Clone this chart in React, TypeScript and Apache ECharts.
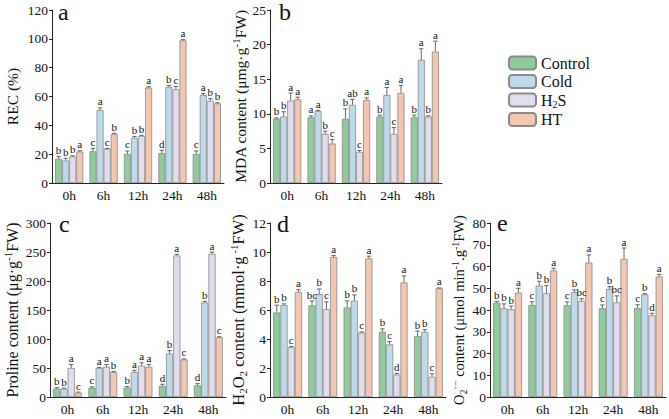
import React, { useEffect, useRef } from 'react';
import * as echarts from 'echarts';

const FONT = "'Liberation Serif', 'Times New Roman', serif";

const categories = ['0h', '6h', '12h', '24h', '48h'];
const seriesNames = ['Control', 'Cold', 'H2S', 'HT'];
const colors = ['#8fcc9b', '#bddaea', '#e3dced', '#f3c6b0'];

// a: REC (%)
const recVals = [[16.8, 22, 20.2, 20.7, 20.2], [15.6, 50.6, 31.3, 66.7, 61], [18.4, 23.7, 32.6, 65, 57], [21.8, 34, 66.2, 98.9, 55.2]];
const recErr = [[1.5, 2, 2, 2, 2], [1.5, 1.5, 1, 1, 1], [0.5, 0.3, 0.5, 2, 1.5], [0.5, 0.5, 0.5, 0.5, 0.5]];
const recSig = [['b', 'c', 'c', 'd', 'c'], ['b', 'a', 'b', 'b', 'a'], ['b', 'c', 'b', 'c', 'b'], ['a', 'b', 'a', 'a', 'b']];
const recTicks = [0, 120, 20];

// b: MDA
const mdaVals = [[9.3, 9.5, 9.3, 9.6, 9.5], [9.6, 10.4, 11.3, 12.7, 17.8], [11.9, 7.1, 4.5, 7.1, 9.6], [12.1, 5.7, 12.0, 13.0, 19.0]];
const mdaErr = [[0.1, 0.2, 1.4, 0.2, 0.3], [0.7, 0.1, 0.8, 1.1, 1.6], [1.1, 0.4, 0.2, 0.9, 0.1], [0.3, 0.6, 0.3, 1.1, 1.5]];
const mdaSig = [['b', 'a', 'b', 'b', 'b'], ['b', 'a', 'ab', 'a', 'a'], ['a', 'b', 'c', 'c', 'b'], ['a', 'c', 'a', 'a', 'a']];
const mdaTicks = [0, 25, 5];

// c: Proline
const proVals = [[14.4, 16, 16, 19, 20], [14.4, 50, 43, 75, 163], [50, 52, 54, 244, 247], [7.5, 43, 52, 64.6, 103]];
const proErr = [[1.5, 1.5, 2, 3, 3], [1, 1, 3, 5, 2], [6, 4, 5, 2, 3], [1, 1, 4, 1, 1]];
const proSig = [['b', 'c', 'b', 'd', 'd'], ['b', 'a', 'a', 'b', 'b'], ['a', 'a', 'a', 'a', 'a'], ['c', 'b', 'a', 'c', 'c']];
const proTicks = [0, 300, 50];

// d: H2O2
const h2o2Vals = [[5.83, 6.32, 6.18, 4.5, 4.2], [6.34, 7.1, 6.64, 3.63, 4.5], [3.43, 6.06, 4.44, 1.55, 1.4], [7.25, 9.65, 9.56, 7.9, 7.5]];
const h2o2Err = [[0.5, 0.3, 0.45, 0.2, 0.35], [0.08, 0.35, 0.4, 0.2, 0.15], [0.05, 0.5, 0.05, 0.08, 0.2], [0.15, 0.1, 0.15, 0.45, 0.02]];
const h2o2Sig = [['b', 'bc', 'b', 'b', 'b'], ['b', 'b', 'b', 'c', 'b'], ['c', 'c', 'c', 'd', 'c'], ['a', 'a', 'a', 'a', 'a']];
const h2o2Ticks = [0, 12, 2];

// e: O2-
const o2Vals = [[43.4, 42.3, 42.2, 40.8, 40.9], [40.8, 51.2, 48.2, 49.7, 47.2], [40.3, 47.7, 44.2, 43.5, 37.5], [48, 58.2, 61.8, 63.5, 55.4]];
const o2Err = [[0.6, 1.5, 1.5, 1.5, 1.5], [2, 2, 1, 1, 0.3], [1.5, 3.5, 1, 3, 1], [2, 1, 3.5, 5, 1]];
const o2Sig = [['b', 'c', 'c', 'c', 'c'], ['b', 'b', 'b', 'b', 'b'], ['b', 'b', 'bc', 'bc', 'd'], ['a', 'a', 'a', 'a', 'a']];
const o2Ticks = [0, 80, 10];

const GAP = 0.18;

const panels = [
  { vals: recVals, err: recErr, sig: recSig, ticks: recTicks, left: 52, width: 172, top: 10, height: 173, tag: 'a', tagX: 58, tagY: 12,
    name: '{n|REC (%)}', nameGap: 30, nameSize: 15.5 },
  { vals: mdaVals, err: mdaErr, sig: mdaSig, ticks: mdaTicks, left: 270, width: 172, top: 10, height: 173, tag: 'b', tagX: 279, tagY: 12,
    name: '{n|MDA content (μmg·g}{sup|-1}{n|FW)}', nameGap: 20, nameSize: 15.5 },
  { vals: proVals, err: proErr, sig: proSig, ticks: proTicks, left: 50, width: 176, top: 223, height: 174, tag: 'c', tagX: 59, tagY: 224,
    name: '{n|Proline content (μg·g}{sup|-1}{n|FW)}', nameGap: 28, nameSize: 16 },
  { vals: h2o2Vals, err: h2o2Err, sig: h2o2Sig, ticks: h2o2Ticks, left: 270, width: 176, top: 223, height: 174, tag: 'd', tagX: 277, tagY: 224,
    name: '{n|H}{sub|2}{n|O}{sub|2}{n| content (mmol·g}{sup| -1}{n|FW)}', nameGap: 16, nameSize: 16.5 },
  { vals: o2Vals, err: o2Err, sig: o2Sig, ticks: o2Ticks, left: 490, width: 176, top: 223, height: 174, tag: 'e', tagX: 497, tagY: 223,
    name: '{n|O}{sub|2}{sup|·−}{n| content (μmol min}{sup|-1}{n|.g}{sup|-1}{n|FW)}', nameGap: 16, nameSize: 14.5 },
];

function buildOption() {
  const grid: any[] = [];
  const xAxis: any[] = [];
  const yAxis: any[] = [];
  const series: any[] = [];
  const graphic: any[] = [];

  panels.forEach((p, pi) => {
    grid.push({ left: p.left, top: p.top, width: p.width, height: p.height, containLabel: false });
    xAxis.push({
      type: 'category', gridIndex: pi, data: categories,
      axisLine: { lineStyle: { color: '#222', width: 1 } },
      axisTick: { show: false },
      axisLabel: { fontFamily: FONT, fontSize: 13.5, color: '#111', margin: 5 },
    });
    const sub = Math.round(p.nameSize * 0.68);
    yAxis.push({
      type: 'value', gridIndex: pi, min: p.ticks[0], max: p.ticks[1], interval: p.ticks[2],
      axisLine: { show: true, lineStyle: { color: '#222', width: 1 } },
      axisTick: { show: true, length: 3, lineStyle: { color: '#222' } },
      splitLine: { show: false },
      axisLabel: { fontFamily: FONT, fontSize: 13.5, color: '#111', margin: 4 },
      name: p.name, nameLocation: 'middle', nameGap: p.nameGap, nameRotate: 90,
      nameTextStyle: {
        fontFamily: FONT, color: '#111',
        rich: {
          n: { fontFamily: FONT, fontSize: p.nameSize, color: '#111', lineHeight: p.nameSize + 4 },
          sub: { fontFamily: FONT, fontSize: sub, color: '#111', lineHeight: sub, verticalAlign: 'bottom' },
          sup: { fontFamily: FONT, fontSize: sub, color: '#111', lineHeight: sub, verticalAlign: 'top' },
        },
      },
    });
    seriesNames.forEach((sn, si) => {
      series.push({
        type: 'bar', name: sn, xAxisIndex: pi, yAxisIndex: pi, data: p.vals[si],
        barGap: '0%', barCategoryGap: GAP * 100 + '%',
        itemStyle: { color: colors[si], borderColor: '#8a8a8a', borderWidth: 0.8 },
        emphasis: { disabled: true },
      });
    });
    const data: number[][] = [];
    for (let si = 0; si < 4; si++) {
      for (let ci = 0; ci < categories.length; ci++) {
        data.push([ci, p.vals[si][ci] + p.err[si][ci], si]);
      }
    }
    series.push({
      type: 'custom', xAxisIndex: pi, yAxisIndex: pi, clip: false, silent: true, z: 10,
      encode: { x: 0, y: 1 },
      data,
      renderItem: (params: any, api: any) => {
        const ci = api.value(0);
        const si = api.value(2);
        const v = p.vals[si][ci];
        const e = p.err[si][ci];
        const band = api.size([1, 0])[0];
        const groupW = band * (1 - GAP);
        const barW = groupW / 4;
        const cx = api.coord([ci, 0])[0] - groupW / 2 + barW * (si + 0.5);
        const yV = api.coord([ci, v])[1];
        const yT = api.coord([ci, v + e])[1];
        const st = { stroke: '#555', lineWidth: 0.9 };
        return {
          type: 'group',
          children: [
            { type: 'line', shape: { x1: cx, y1: yV, x2: cx, y2: yT }, style: st },
            { type: 'line', shape: { x1: cx - 2.2, y1: yT, x2: cx + 2.2, y2: yT }, style: st },
            {
              type: 'text', x: cx, y: yT - 1,
              style: { text: p.sig[si][ci], fontFamily: FONT, fontSize: 11, fill: '#111', textAlign: 'center', textVerticalAlign: 'bottom' },
            },
          ],
        };
      },
    });
    graphic.push({
      type: 'text', left: p.tagX, top: p.tagY - 12,
      style: { text: p.tag, fontFamily: FONT, fontSize: 24, fill: '#111' },
    });
  });

  return {
    animation: false,
    backgroundColor: '#fff',
    grid, xAxis, yAxis, series, graphic,
    legend: {
      data: seriesNames,
      orient: 'vertical', left: 503, top: 50,
      itemWidth: 27, itemHeight: 13, itemGap: 2.5,
      selectedMode: false,
      formatter: (name: string) => (name === 'H2S' ? '{a|H}{s|2}{a|S}' : '{a|' + name + '}'),
      textStyle: {
        fontFamily: FONT, fontSize: 16, color: '#111',
        rich: {
          a: { fontFamily: FONT, fontSize: 16, color: '#111', lineHeight: 18 },
          s: { fontFamily: FONT, fontSize: 10, color: '#111', lineHeight: 10, verticalAlign: 'bottom' },
        },
      },
    },
  };
}

export default function App() {
  const ref = useRef<HTMLDivElement>(null);
  useEffect(() => {
    if (!ref.current) return;
    const chart = echarts.init(ref.current, undefined, { renderer: 'svg' });
    chart.setOption(buildOption() as any);
    return () => chart.dispose();
  }, []);
  return <div ref={ref} style={{ position: 'fixed', left: 0, top: 0, width: 669, height: 419, background: '#fff' }} />;
}
